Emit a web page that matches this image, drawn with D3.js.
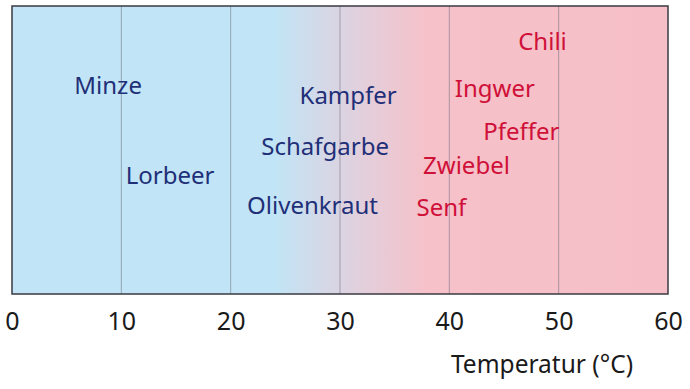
<!DOCTYPE html>
<html>
<head>
  <meta charset="utf-8">
  <script src="https://cdn.jsdelivr.net/npm/d3@7"></script>
  <style>
    body { margin: 0; background: #fff; }
    text { font-family: "Noto Sans", "Open Sans", sans-serif; }
  </style>
</head>
<body>
  <div id="chart"></div>
  <script>
    // temperature ticks
    var ticks = [0, 10, 20, 30, 40, 50, 60];

    // spice names, left edge of label in °C, vertical position (0 = bottom, 100 = top)
    var coolNames = ["Minze", "Lorbeer", "Kampfer", "Schafgarbe", "Olivenkraut"];
    var coolTemp = [5.7, 10.4, 26.3, 22.8, 21.5];
    var coolLevel = [69.4, 38.2, 66, 48.3, 27.8];

    var hotNames = ["Chili", "Ingwer", "Pfeffer", "Zwiebel", "Senf"];
    var hotTemp = [46.3, 40.5, 43.1, 37.6, 37];
    var hotLevel = [84.7, 68.4, 53.5, 41.7, 27.1];

    var width = 690, height = 389;
    var margin = { top: 6, right: 22, bottom: 95, left: 12 };
    var w = width - margin.left - margin.right;
    var h = height - margin.top - margin.bottom;

    var svg = d3.select("#chart").append("svg")
      .attr("width", width)
      .attr("height", height);

    var g = svg.append("g")
      .attr("transform", "translate(" + margin.left + "," + margin.top + ")");

    var x = d3.scaleLinear().domain([0, 60]).range([0, w]);
    var y = d3.scaleLinear().domain([0, 100]).range([h, 0]);

    // background gradient cold -> warm
    var grad = svg.append("defs").append("linearGradient")
      .attr("id", "bg")
      .attr("x1", 0).attr("x2", 1).attr("y1", 0).attr("y2", 0);
    grad.append("stop").attr("offset", x(24) / w).attr("stop-color", "#c1e5f6");
    grad.append("stop").attr("offset", x(30) / w).attr("stop-color", "#dbd4e2");
    grad.append("stop").attr("offset", x(38) / w).attr("stop-color", "#f6c1c9");
    grad.append("stop").attr("offset", 1).attr("stop-color", "#f6bfc7");

    g.append("rect")
      .attr("width", w)
      .attr("height", h)
      .attr("fill", "url(#bg)");

    // vertical grid lines
    g.selectAll(".grid")
      .data(ticks.slice(1, -1))
      .enter().append("line")
      .attr("x1", function(d) { return x(d); })
      .attr("x2", function(d) { return x(d); })
      .attr("y1", 0)
      .attr("y2", h)
      .attr("stroke", "#6b6f80")
      .attr("stroke-opacity", 0.55)
      .attr("stroke-width", 1);

    // frame
    g.append("rect")
      .attr("width", w)
      .attr("height", h)
      .attr("fill", "none")
      .attr("stroke", "#3a3a42")
      .attr("stroke-width", 1.5);

    // x axis
    var axis = g.append("g")
      .attr("transform", "translate(0," + h + ")")
      .call(d3.axisBottom(x).tickValues(ticks).tickSize(0).tickPadding(18));
    axis.select(".domain").remove();
    axis.selectAll("text")
      .attr("fill", "#1a1a1a")
      .style("font-size", "25px");

    g.append("text")
      .attr("x", x(60) - 35)
      .attr("y", h + 79)
      .attr("text-anchor", "end")
      .attr("fill", "#1a1a1a")
      .style("font-size", "24.5px")
      .text("Temperatur (°C)");

    // spice labels
    function labels(names, temps, levels, color) {
      g.selectAll(null)
        .data(names)
        .enter().append("text")
        .attr("x", function(d, i) { return x(temps[i]); })
        .attr("y", function(d, i) { return y(levels[i]); })
        .attr("fill", color)
        .style("font-size", "24px")
        .text(function(d) { return d; });
    }
    labels(coolNames, coolTemp, coolLevel, "#1f2f78");
    labels(hotNames, hotTemp, hotLevel, "#cf1038");
  </script>
</body>
</html>
